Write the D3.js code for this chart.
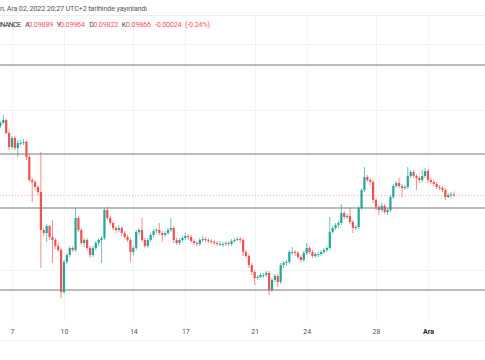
<!DOCTYPE html>
<html><head><meta charset="utf-8">
<script src="https://cdn.jsdelivr.net/npm/d3@7"></script>
<style>body{margin:0;background:#fff}svg{display:block}</style>
</head><body><svg id="c" width="485" height="360"></svg>
<script>
const opens=[0.116,0.11675,0.1175,0.11425,0.11075,0.113,0.1105,0.11175,0.11175,0.112,
0.10825,0.1025,0.102,0.10075,0.0995,0.09,0.08925,0.091,0.08825,0.0875,
0.086,0.085,0.0745,0.082,0.08375,0.0855,0.085,0.093,0.09,0.08675,
0.0875,0.0855,0.08375,0.0855,0.08675,0.0875,0.088,0.095,0.093,0.09175,
0.0905,0.09,0.0905,0.08925,0.08825,0.0875,0.0845,0.0855,0.0895,0.09,
0.0875,0.086,0.0875,0.08875,0.08975,0.09,0.08925,0.08875,0.08925,0.09,
0.0905,0.0875,0.08675,0.0875,0.088,0.0885,0.08825,0.08725,0.08675,0.0865,
0.0875,0.08775,0.0875,0.08725,0.087,0.08675,0.0865,0.0865,0.0865,0.08675,
0.0865,0.08725,0.0875,0.08775,0.0875,0.0845,0.0835,0.08125,0.0795,0.078,
0.07825,0.07875,0.07875,0.07925,0.075,0.0775,0.0785,0.077,0.08125,0.08175,
0.082,0.0845,0.0845,0.08425,0.08325,0.0825,0.08425,0.0855,0.0845,0.0835,
0.084,0.084,0.0845,0.085,0.0855,0.0895,0.0905,0.09125,0.09175,0.09425,
0.09325,0.0935,0.092,0.0905,0.09075,0.0955,0.1,0.10325,0.1025,0.102,
0.0975,0.09575,0.095,0.096,0.0945,0.095,0.09825,0.101,0.10175,0.101,
0.1005,0.10075,0.1035,0.1045,0.1035,0.103,0.1025,0.1035,0.10475,0.1025,
0.102,0.1015,0.10075,0.1005,0.1,0.09825,0.09875,0.09889];
const highs=[0.11725,0.11875,0.11775,0.11475,0.1135,0.1135,0.1125,0.1125,0.11275,0.1125,
0.10875,0.103,0.1025,0.10125,0.1095,0.0905,0.0915,0.09125,0.0925,0.088,
0.08675,0.0855,0.0825,0.08425,0.086,0.086,0.0955,0.0935,0.0905,0.088,
0.088,0.086,0.086,0.08725,0.088,0.0885,0.0955,0.09575,0.0935,0.09225,
0.091,0.09125,0.091,0.08975,0.08875,0.088,0.086,0.09,0.0905,0.093,
0.088,0.088,0.08925,0.09025,0.0905,0.09175,0.08975,0.08975,0.0905,0.093,
0.091,0.088,0.088,0.0885,0.08925,0.089,0.08875,0.08775,0.08725,0.088,
0.0885,0.08825,0.088,0.08775,0.0875,0.08725,0.08725,0.087,0.08725,0.08725,
0.08775,0.088,0.08825,0.08825,0.088,0.085,0.084,0.08175,0.08,0.07875,
0.07925,0.07925,0.07975,0.07975,0.078,0.079,0.079,0.08175,0.08225,0.0825,
0.085,0.08575,0.085,0.08475,0.08375,0.08475,0.08675,0.086,0.085,0.0845,
0.0845,0.085,0.0855,0.086,0.09325,0.091,0.09175,0.09225,0.0965,0.09475,
0.094,0.0955,0.0925,0.09125,0.096,0.1005,0.10575,0.10375,0.103,0.1025,
0.098,0.09625,0.09675,0.0965,0.0955,0.09875,0.1015,0.10225,0.103,0.1015,
0.10125,0.10575,0.105,0.105,0.104,0.1035,0.105,0.1055,0.10525,0.103,
0.1025,0.102,0.10125,0.101,0.1005,0.09925,0.0995,0.09964];
const lows=[0.1155,0.1165,0.114,0.11,0.11025,0.11,0.10825,0.111,0.11125,0.1075,
0.102,0.097,0.1,0.09875,0.0805,0.0885,0.087,0.0875,0.08175,0.08525,
0.0845,0.073,0.074,0.0815,0.08325,0.0845,0.0845,0.0895,0.08625,0.08575,
0.085,0.083,0.08325,0.085,0.086,0.08175,0.0875,0.0925,0.09125,0.08975,
0.08925,0.0895,0.0885,0.08775,0.087,0.082,0.08375,0.085,0.08875,0.087,
0.0855,0.0855,0.087,0.08825,0.08925,0.08875,0.087,0.08825,0.08875,0.0895,
0.08675,0.08625,0.08625,0.087,0.0875,0.0875,0.08675,0.08625,0.08575,0.086,
0.087,0.087,0.08675,0.0865,0.08625,0.086,0.086,0.08575,0.086,0.086,
0.086,0.08675,0.08725,0.08675,0.0835,0.083,0.0805,0.07875,0.07625,0.0775,
0.078,0.078,0.07825,0.07375,0.0745,0.077,0.07575,0.0765,0.0805,0.081,
0.0815,0.08375,0.0835,0.08275,0.082,0.082,0.08375,0.084,0.083,0.083,
0.08325,0.0835,0.084,0.0845,0.085,0.089,0.09,0.0905,0.09125,0.09275,
0.09275,0.0915,0.08925,0.09,0.09025,0.095,0.0995,0.102,0.10125,0.09675,
0.095,0.09375,0.0945,0.094,0.09375,0.0945,0.09775,0.1005,0.1005,0.09825,
0.1,0.10025,0.103,0.103,0.1,0.10175,0.102,0.103,0.10175,0.1015,
0.101,0.10025,0.1,0.0995,0.0975,0.098,0.098,0.09822];
const closes=[0.11675,0.1175,0.11425,0.11075,0.113,0.1105,0.11175,0.11175,0.112,0.10825,
0.1025,0.102,0.10075,0.0995,0.09,0.08925,0.091,0.08825,0.0875,0.086,
0.085,0.0745,0.082,0.08375,0.0855,0.085,0.093,0.09,0.08675,0.0875,
0.0855,0.08375,0.0855,0.08675,0.0875,0.088,0.095,0.093,0.09175,0.0905,
0.09,0.0905,0.08925,0.08825,0.0875,0.0845,0.0855,0.0895,0.09,0.0875,
0.086,0.0875,0.08875,0.08975,0.09,0.08925,0.08875,0.08925,0.09,0.0905,
0.0875,0.08675,0.0875,0.088,0.0885,0.08825,0.08725,0.08675,0.0865,0.0875,
0.08775,0.0875,0.08725,0.087,0.08675,0.0865,0.0865,0.0865,0.08675,0.0865,
0.08725,0.0875,0.08775,0.0875,0.0845,0.0835,0.08125,0.0795,0.078,0.07825,
0.07875,0.07875,0.07925,0.075,0.0775,0.0785,0.077,0.08125,0.08175,0.082,
0.0845,0.0845,0.08425,0.08325,0.0825,0.08425,0.0855,0.0845,0.0835,0.084,
0.084,0.0845,0.085,0.0855,0.0895,0.0905,0.09125,0.09175,0.09425,0.09325,
0.0935,0.092,0.0905,0.09075,0.0955,0.1,0.10325,0.1025,0.102,0.0975,
0.09575,0.095,0.096,0.0945,0.095,0.09825,0.101,0.10175,0.101,0.1005,
0.10075,0.1035,0.1045,0.1035,0.103,0.1025,0.1035,0.10475,0.1025,0.102,
0.1015,0.10075,0.1005,0.1,0.09825,0.09875,0.09889,0.09866];
const barStart=new Date(Date.UTC(2022,10,6,8));
const barEnd=new Date(Date.UTC(2022,11,2,16));
const tickDates=[new Date(Date.UTC(2022,10,7)),new Date(Date.UTC(2022,10,10)),new Date(Date.UTC(2022,10,14)),new Date(Date.UTC(2022,10,17)),new Date(Date.UTC(2022,10,21)),new Date(Date.UTC(2022,10,24)),new Date(Date.UTC(2022,10,28)),new Date(Date.UTC(2022,11,1))];
const tickLabels=["7","10","14","17","21","24","28","Ara"];
const levelPrices=[0.13125,0.109,0.0955,0.075];
const gridPrices=[0.1365,0.12,0.08];
const lastPrice=0.09866;
const headerLine="n, Ara 02, 2022 20:27 UTC+2 tarihinde yayınlandı";
const ohlcLabels=["A","Y","D","K"];
const ohlcValues=["0.09889","0.09964","0.09822","0.09866"];
const changeText=["-0.00024","(-0.24%)"];

const times=d3.utcHour.every(4).range(barStart,barEnd);
const bars=times.map((t,i)=>({t,o:opens[i],h:highs[i],l:lows[i],c:closes[i]}));

const svg=d3.select("#c");
const font="Roboto, 'Liberation Sans', sans-serif";
svg.append("rect").attr("width",485).attr("height",360).attr("fill","#fff");

const x=d3.scaleUtc().domain([tickDates[0],tickDates[7]]).range([12,428]);
const y=d3.scaleLinear().domain([0.067,0.14125]).range([322,25]);

// header
svg.append("text").attr("x",0).attr("y",10.5).attr("font-family",font).attr("font-size",7.2)
  .attr("fill","#555").attr("textLength",147).attr("lengthAdjust","spacing").text(headerLine);
svg.append("line").attr("x1",0).attr("x2",485).attr("y1",15.5).attr("y2",15.5).attr("stroke","#eceef2");

// grid
const g=svg.append("g");
g.selectAll("line.v").data(tickDates).join("line").attr("class","v")
  .attr("x1",d=>Math.round(x(d))+0.5).attr("x2",d=>Math.round(x(d))+0.5)
  .attr("y1",16).attr("y2",322).attr("stroke","#f1f3f6");
g.selectAll("line.h").data(gridPrices).join("line").attr("class","h")
  .attr("x1",0).attr("x2",485).attr("y1",d=>Math.round(y(d))+0.5).attr("y2",d=>Math.round(y(d))+0.5)
  .attr("stroke","#f1f3f6");

// ohlc line
svg.append("text").attr("x",-1).attr("y",26.7).attr("font-family",font).attr("font-size",7.2).attr("fill","#333").attr("textLength",22).text("INANCE");
const lblX=[25,56.7,89.3,121.7], valX=[28.3,60,93.3,126];
ohlcLabels.forEach((lb,i)=>{
  svg.append("text").attr("x",lblX[i]).attr("y",26.7).attr("font-family",font).attr("font-size",7.2).attr("fill","#444").text(lb);
  svg.append("text").attr("x",valX[i]).attr("y",26.7).attr("font-family",font).attr("font-size",7.2).attr("fill","#f7525f").attr("textLength",25).attr("lengthAdjust","spacing").text(ohlcValues[i]);
});
svg.append("text").attr("x",155).attr("y",26.7).attr("font-family",font).attr("font-size",7.2).attr("fill","#f7525f").attr("textLength",26.5).text(changeText[0]);
svg.append("text").attr("x",185).attr("y",26.7).attr("font-family",font).attr("font-size",7.2).attr("fill","#f7525f").attr("textLength",25).text(changeText[1]);

// levels
svg.selectAll("line.lv").data(levelPrices).join("line").attr("class","lv")
  .attr("x1",0).attr("x2",485).attr("y1",d=>y(d)).attr("y2",d=>y(d))
  .attr("stroke","#7b7b7b").attr("stroke-width",1.2);

// last price dotted
svg.append("line").attr("x1",0).attr("x2",485).attr("y1",y(lastPrice)).attr("y2",y(lastPrice))
  .attr("stroke","#f7525f").attr("stroke-opacity",0.5).attr("stroke-dasharray","1,2");

// candles
const up="#26a69a", dn="#ef5350";
const cg=svg.append("g");
cg.selectAll("line.w").data(bars).join("line").attr("class","w")
  .attr("x1",d=>x(d.t)).attr("x2",d=>x(d.t)).attr("y1",d=>y(d.h)).attr("y2",d=>y(d.l))
  .attr("stroke",d=>d.c>=d.o?up:dn).attr("stroke-width",0.9).attr("stroke-opacity",0.75);
cg.selectAll("rect").data(bars).join("rect")
  .attr("x",d=>x(d.t)-1.1).attr("width",2.2)
  .attr("y",d=>y(Math.max(d.o,d.c))).attr("height",d=>Math.max(0.9,Math.abs(y(d.o)-y(d.c))))
  .attr("fill",d=>d.c>=d.o?up:dn);

// axis
const ax=svg.append("g").attr("transform","translate(0,326)")
  .call(d3.axisBottom(x).tickValues(tickDates).tickFormat((d,i)=>tickLabels[i]).tickSize(0).tickPadding(3));
ax.select(".domain").remove();
ax.selectAll("text").attr("font-family",font).attr("font-size",7)
  .attr("font-weight",(d,i)=>i===7?"bold":"normal").attr("fill",(d,i)=>i===7?"#222":"#555");
svg.append("line").attr("x1",0).attr("x2",485).attr("y1",340.5).attr("y2",340.5).attr("stroke","#eef0f3");
</script></body></html>
